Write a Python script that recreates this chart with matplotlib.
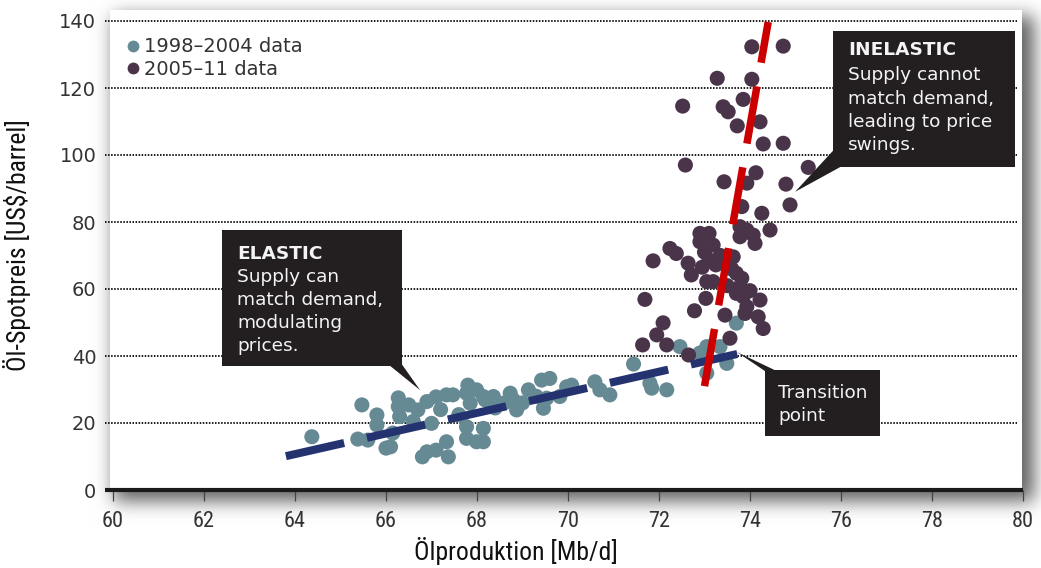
import numpy as np
import matplotlib
matplotlib.use("Agg")
import matplotlib.pyplot as plt
from matplotlib import font_manager
from matplotlib.patches import Rectangle, Polygon
from matplotlib.lines import Line2D

# ---------------------------------------------------------------- data
# 1998–2004: production (Mb/d) and spot price (US$/barrel)
early_x = [64.37, 65.47, 65.80, 65.80, 65.38, 65.60, 66.00, 66.10, 66.27, 66.27,
           66.30, 66.50, 66.70, 66.90, 67.10, 67.33, 67.47, 67.00, 66.90, 66.80,
           67.10, 67.33, 67.37, 67.80, 67.77, 67.99, 68.14, 67.85, 67.77, 67.77,
           67.99, 68.14, 68.14, 68.36, 68.18, 68.73, 68.80, 68.87, 69.13, 69.42,
           69.60, 69.46, 69.53, 69.82, 69.97, 70.08, 70.59, 70.70, 70.92, 71.44,
           71.80, 71.84, 72.17, 72.46, 73.05, 73.34, 73.49, 73.70, 73.05, 72.90,
           66.60, 67.60, 68.40, 68.60, 69.00, 69.30, 66.15, 67.20]
early_y = [15.9, 25.4, 22.4, 19.4, 15.2, 14.9, 12.5, 12.9, 27.5, 24.9,
           21.9, 25.4, 23.9, 26.4, 27.8, 28.4, 28.4, 19.9, 11.4, 9.9,
           11.9, 14.4, 9.9, 31.3, 28.9, 29.9, 27.9, 25.9, 18.9, 15.4,
           14.4, 18.4, 14.4, 27.9, 26.9, 28.9, 26.9, 23.9, 29.9, 32.8,
           33.3, 24.4, 27.4, 27.9, 30.8, 31.3, 32.3, 29.9, 28.4, 37.6,
           31.9, 30.4, 29.9, 42.8, 42.8, 42.8, 37.8, 49.8, 34.9, 40.9,
           20.5, 22.5, 24.5, 26.0, 26.0, 28.0, 17.0, 24.0]

# 2005–11
late_x = [74.04, 74.73, 73.28, 74.04, 72.52, 73.41, 73.52, 73.85, 73.72, 74.22,
          74.29, 74.73, 72.58, 73.43, 74.13, 73.93, 75.28, 74.79, 74.88, 73.82,
          74.26, 74.44, 74.07, 74.11, 73.78, 73.78, 73.93, 72.90, 73.10, 72.90,
          73.19, 72.24, 72.38, 71.87, 72.64, 72.71, 73.10, 73.25, 73.05, 73.19,
          73.63, 73.70, 73.82, 73.78, 73.70, 73.85, 73.93, 73.89, 74.22, 74.18,
          74.29, 73.56, 73.03, 72.78, 73.45, 71.69, 72.09, 71.95, 72.17, 71.64,
          72.65, 73.00, 73.35, 73.60, 72.95, 73.50, 74.00]
late_y = [132.3, 132.5, 122.9, 122.6, 114.6, 114.4, 112.9, 116.6, 108.7, 109.9,
          103.3, 103.5, 97.0, 92.0, 94.7, 91.6, 96.3, 91.3, 85.1, 84.6,
          82.6, 77.6, 76.1, 73.6, 75.6, 78.6, 77.6, 76.6, 76.6, 74.1,
          73.1, 72.1, 70.6, 68.4, 67.7, 64.2, 68.7, 67.2, 62.2, 62.2,
          69.6, 64.7, 63.2, 60.7, 58.7, 57.7, 54.7, 52.7, 56.7, 51.7,
          48.2, 45.3, 57.2, 53.5, 52.2, 56.9, 49.9, 46.3, 43.3, 43.3,
          40.3, 71.0, 70.0, 66.0, 66.5, 61.0, 59.5]

# trend segments
elastic_x = [63.80, 73.72]
elastic_y = [10.1, 40.6]
inelastic_x = [73.00, 74.40]
inelastic_y = [31.0, 139.7]

x_ticks = list(range(60, 81, 2))
y_ticks = list(range(0, 141, 20))
legend_labels = ["1998–2004 data", "2005–11 data"]

# ---------------------------------------------------------------- style
TEAL = "#668a94"
PLUM = "#4a344a"
NAVY = "#24336f"
RED = "#cc0000"
BOX = "#231f20"
TXT = "#333333"

plt.rcParams["font.family"] = "DejaVu Sans"
plt.rcParams["lines.scale_dashes"] = False

def pick_condensed():
    fl = font_manager.fontManager.ttflist
    names = {f.name for f in fl}
    for n in ["Liberation Sans Narrow", "Roboto Condensed", "Open Sans Condensed"]:
        if n in names:
            return n, "normal"
    for n in ["DejaVu Sans", "Open Sans", "Roboto", "Noto Sans"]:
        if any(f.name == n and f.stretch in ("condensed", "semi-condensed")
               for f in fl):
            return n, "condensed"
    return "DejaVu Sans", "normal"

COND, COND_STRETCH = pick_condensed()

W, H, DPI = 1041, 568, 100
fig = plt.figure(figsize=(W / DPI, H / DPI), dpi=DPI)

# ---------------------------------------------------------------- backdrop with soft drop shadow
def blur(a, sigma):
    r = int(3 * sigma)
    k = np.exp(-0.5 * (np.arange(-r, r + 1) / sigma) ** 2)
    k /= k.sum()
    a = np.apply_along_axis(lambda v: np.convolve(v, k, mode="same"), 0, a)
    a = np.apply_along_axis(lambda v: np.convolve(v, k, mode="same"), 1, a)
    return a

px0, px1, py0, py1 = 110, 1022, 10, 491
mask = np.zeros((H, W))
mask[py0 + 6:py1 + 10, px0 + 4:px1 + 12] = 1.0
shade = blur(mask, 9.0)
img = 1.0 - 0.62 * shade
img[py0:py1, px0:px1] = 1.0
bg = fig.add_axes([0, 0, 1, 1], zorder=-10)
bg.imshow(np.dstack([img, img, img]), aspect="auto", interpolation="bilinear",
          extent=(0, W, H, 0))
bg.set_xlim(0, W)
bg.set_ylim(H, 0)
bg.axis("off")

# ---------------------------------------------------------------- main axes
ax = fig.add_axes([113 / W, (H - 490) / H, 910 / W, 469 / H])
ax.patch.set_alpha(0)
ax.set_xlim(60, 80)
ax.set_ylim(0, 140)

for s in ["left", "right", "top", "bottom"]:
    ax.spines[s].set_visible(False)

# dotted horizontal guides reaching out to the tick labels
ytr = ax.get_yaxis_transform()
for yv in y_ticks[1:]:
    ax.plot([-0.009, 0.9934], [yv, yv], transform=ytr, color="#1a1a1a",
            lw=1.4, linestyle=(0, (1.1, 1.1)), clip_on=False, zorder=1)
# baseline
ax.plot([-0.009, 1.0], [0, 0], transform=ytr, color="#1a1a1a", lw=3.0,
        solid_capstyle="butt", clip_on=False, zorder=6)

ax.set_xticks(x_ticks)
ax.set_yticks(y_ticks)
ax.tick_params(axis="x", direction="out", length=8, width=0.9, color="#444444",
               pad=7, labelsize=16, labelcolor=TXT)
ax.tick_params(axis="y", length=0, pad=12, labelsize=14, labelcolor=TXT)
for lab in ax.get_xticklabels():
    lab.set_fontfamily(COND)
    lab.set_fontstretch(COND_STRETCH)

ax.set_xlabel("Ölproduktion [Mb/d]", fontsize=18.5, family=COND,
              fontstretch=COND_STRETCH, color="#111111")
ax.set_ylabel("Öl-Spotpreis [US$/barrel]", fontsize=18.5, family=COND,
              fontstretch=COND_STRETCH, color="#111111")
ax.xaxis.set_label_coords(0.443, -0.100)
ax.yaxis.set_label_coords(-0.090, 0.522)

# ---------------------------------------------------------------- points
ax.scatter(early_x, early_y, s=118, color=TEAL, edgecolors="none", zorder=3)
ax.scatter(late_x, late_y, s=118, color=PLUM, edgecolors="none", zorder=3)

# trend segments
ax.plot(elastic_x, elastic_y, color=NAVY, lw=5.8, dashes=(43, 16.8),
        dash_capstyle="butt", zorder=4)
ax.plot(inelastic_x, inelastic_y, color=RED, lw=5.4, dashes=(41.8, 17.3),
        dash_capstyle="butt", zorder=5, clip_on=False)

# ---------------------------------------------------------------- legend
handles = [Line2D([], [], marker="o", linestyle="none", markersize=8.5,
                  markerfacecolor=c, markeredgecolor="none") for c in (TEAL, PLUM)]
ax.legend(handles, legend_labels, loc="upper left", bbox_to_anchor=(0.016, 0.965),
          frameon=False, fontsize=14, handlelength=0.6, handletextpad=0.25,
          labelspacing=0.2, borderpad=0, borderaxespad=0, labelcolor=TXT)

# ---------------------------------------------------------------- callouts
def callout(x0, x1, y0, y1, wedge, lines, tx, ty):
    ax.add_patch(Rectangle((x0, y0), x1 - x0, y1 - y0, facecolor=BOX,
                           edgecolor="none", zorder=8, clip_on=False))
    ax.add_patch(Polygon(wedge, closed=True, facecolor=BOX, edgecolor="none",
                         zorder=8, clip_on=False))
    for i, (txt, y) in enumerate(zip(lines, ty)):
        ax.text(tx, y, txt, color="#f4f4f4", fontsize=13.3,
                fontweight="bold" if (i == 0 and txt.isupper()) else "normal",
                ha="left", va="center", zorder=9)

callout(62.40, 66.35, 37.0, 77.6,
        [(66.05, 37.5), (66.35, 37.5), (66.75, 29.8)],
        ["ELASTIC", "Supply can", "match demand,", "modulating", "prices."],
        62.73, [70.4, 63.6, 56.7, 49.9, 43.0])

callout(75.82, 79.82, 96.4, 137.0,
        [(75.84, 101.5), (75.84, 96.9), (76.05, 96.9), (74.99, 89.0)],
        ["INELASTIC", "Supply cannot", "match demand,", "leading to price", "swings."],
        76.15, [131.3, 123.9, 116.7, 109.9, 103.0])

callout(74.33, 76.86, 16.1, 35.8,
        [(73.71, 41.2), (74.35, 35.3), (74.62, 35.3)],
        ["Transition", "point"],
        74.62, [29.0, 22.1])

fig.savefig("out.png", dpi=DPI)
